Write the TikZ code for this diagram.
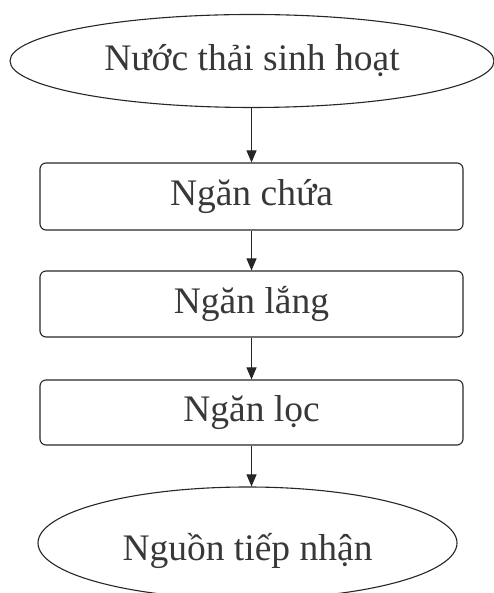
\documentclass[tikz,border=0pt]{standalone}
\usepackage{fontspec}
\setmainfont{Liberation Serif}
\usetikzlibrary{shapes.geometric,arrows.meta}
\begin{document}
\begin{tikzpicture}[x=1pt,y=1pt,
  txt/.style={font=\fontsize{37.5}{44}\selectfont, text=black!78},
  oval/.style={ellipse, draw=black!85, line width=1.1pt, inner sep=0pt, txt},
  stepbox/.style={rectangle, rounded corners=6pt, draw=black!85, line width=1.1pt, minimum width=423pt, inner sep=0pt, txt},
  flow/.style={draw=black!85, line width=1pt, -{Triangle[width=10pt,length=12pt]}}]
\useasboundingbox (0,0) rectangle (494,593);
\node[oval, minimum width=484pt, minimum height=93pt] (src) at (252,532) {Nước thải sinh hoạt};
\node[stepbox, minimum height=67pt] (b1) at (251.5,396.5) {Ngăn chứa};
\node[stepbox, minimum height=66pt] (b2) at (251.5,289) {Ngăn lắng};
\node[stepbox, minimum height=65pt] (b3) at (251.5,180.5) {Ngăn lọc};
\node[oval, minimum width=419pt, minimum height=112pt,
  label={[txt, yshift=-8pt]center:Nguồn tiếp nhận}] (dst) at (247.5,50) {};
\draw[flow] (src.south -| b1.north) -- (b1.north);
\draw[flow] (b1) -- (b2);
\draw[flow] (b2) -- (b3);
\draw[flow] (b3.south) -- (b3.south |- dst.north);
\end{tikzpicture}
\end{document}
